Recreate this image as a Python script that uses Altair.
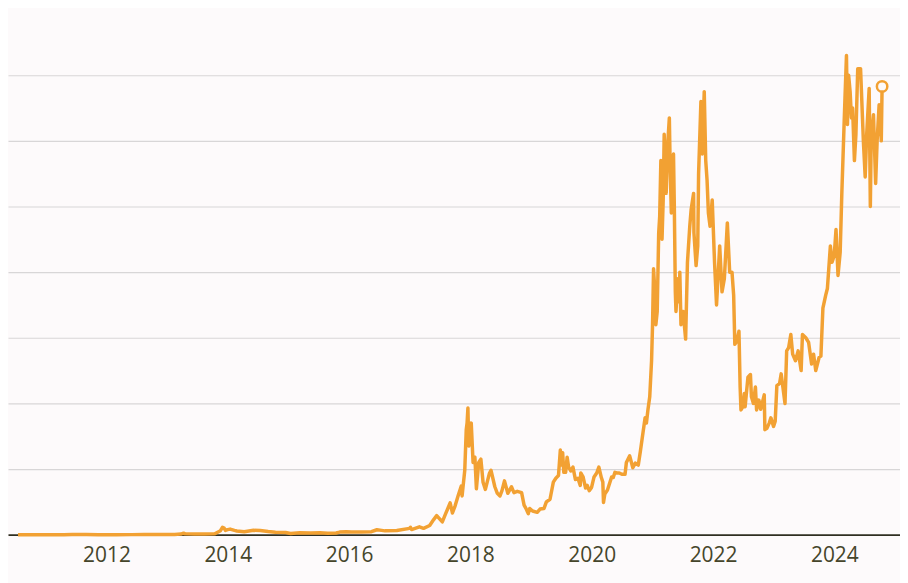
import altair as alt
import pandas as pd

dates = [
    "2010-07-18", "2010-10-01", "2010-12-15", "2011-02-10", "2011-04-20", "2011-06-08", "2011-07-15",
    "2011-09-01", "2011-11-15", "2011-12-31", "2012-03-01", "2012-06-01", "2012-08-15", "2012-11-01",
    "2012-12-31", "2013-02-15", "2013-03-25", "2013-04-10", "2013-04-20", "2013-06-15", "2013-08-15",
    "2013-10-15", "2013-11-18", "2013-11-30", "2013-12-10", "2013-12-18", "2013-12-31", "2014-01-15",
    "2014-02-10", "2014-02-25", "2014-04-10", "2014-06-05", "2014-07-15", "2014-09-01", "2014-10-15",
    "2014-12-15", "2015-01-14", "2015-03-10", "2015-05-15", "2015-07-10", "2015-08-25", "2015-10-15",
    "2015-11-05", "2015-12-15", "2016-01-15", "2016-03-15", "2016-05-15", "2016-06-17", "2016-07-15",
    "2016-08-05", "2016-10-15", "2016-12-31", "2017-01-05", "2017-01-12", "2017-02-28", "2017-03-25",
    "2017-05-01", "2017-05-25", "2017-06-12", "2017-07-16", "2017-08-05", "2017-08-20", "2017-09-01",
    "2017-09-15", "2017-10-01", "2017-10-20", "2017-11-07", "2017-11-12", "2017-11-28", "2017-12-07",
    "2017-12-12", "2017-12-17", "2017-12-22", "2017-12-27", "2018-01-06", "2018-01-17", "2018-01-28",
    "2018-02-06", "2018-02-20", "2018-03-05", "2018-03-18", "2018-04-01", "2018-04-12", "2018-04-25",
    "2018-05-05", "2018-05-28", "2018-06-12", "2018-06-28", "2018-07-10", "2018-07-25", "2018-08-14",
    "2018-08-30", "2018-09-05", "2018-09-20", "2018-10-10", "2018-11-05", "2018-11-20", "2018-12-01",
    "2018-12-15", "2018-12-24", "2019-01-10", "2019-02-07", "2019-02-24", "2019-03-20", "2019-04-03",
    "2019-04-25", "2019-05-15", "2019-05-30", "2019-06-15", "2019-06-26", "2019-07-02", "2019-07-10",
    "2019-07-17", "2019-07-28", "2019-08-06", "2019-08-15", "2019-08-28", "2019-09-10", "2019-09-25",
    "2019-10-10", "2019-10-24", "2019-10-27", "2019-11-10", "2019-11-25", "2019-12-05", "2019-12-17",
    "2019-12-31", "2020-01-15", "2020-01-31", "2020-02-13", "2020-02-28", "2020-03-08", "2020-03-12",
    "2020-03-20", "2020-04-05", "2020-04-30", "2020-05-10", "2020-05-20", "2020-06-01", "2020-06-15",
    "2020-07-01", "2020-07-20", "2020-07-28", "2020-08-17", "2020-09-05", "2020-09-20", "2020-10-08",
    "2020-10-21", "2020-11-05", "2020-11-18", "2020-11-26", "2020-12-05", "2020-12-16", "2020-12-27",
    "2021-01-02", "2021-01-08", "2021-01-14", "2021-01-22", "2021-01-30", "2021-02-08", "2021-02-14",
    "2021-02-21", "2021-02-28", "2021-03-07", "2021-03-13", "2021-03-25", "2021-04-02", "2021-04-13",
    "2021-04-18", "2021-04-25", "2021-05-03", "2021-05-08", "2021-05-13", "2021-05-19", "2021-05-23",
    "2021-06-03", "2021-06-12", "2021-06-15", "2021-06-22", "2021-07-05", "2021-07-20", "2021-07-31",
    "2021-08-14", "2021-08-22", "2021-09-06", "2021-09-08", "2021-09-21", "2021-10-01", "2021-10-06",
    "2021-10-20", "2021-10-28", "2021-11-09", "2021-11-18", "2021-11-26", "2021-12-04", "2021-12-14",
    "2021-12-27", "2022-01-10", "2022-01-22", "2022-02-10", "2022-02-24", "2022-03-10", "2022-03-28",
    "2022-04-11", "2022-04-25", "2022-05-05", "2022-05-12", "2022-05-25", "2022-06-06", "2022-06-13",
    "2022-06-18", "2022-06-30", "2022-07-08", "2022-07-13", "2022-07-30", "2022-08-14", "2022-08-20",
    "2022-09-01", "2022-09-13", "2022-09-20", "2022-10-04", "2022-10-15", "2022-11-05", "2022-11-09",
    "2022-11-21", "2022-12-05", "2022-12-15", "2022-12-31", "2023-01-10", "2023-01-20", "2023-02-05",
    "2023-02-15", "2023-03-10", "2023-03-20", "2023-04-01", "2023-04-14", "2023-04-25", "2023-05-12",
    "2023-05-28", "2023-06-15", "2023-06-23", "2023-07-13", "2023-07-30", "2023-08-17", "2023-08-29",
    "2023-09-11", "2023-10-01", "2023-10-12", "2023-10-24", "2023-11-10", "2023-11-20", "2023-12-08",
    "2023-12-18", "2023-12-31", "2024-01-11", "2024-01-23", "2024-02-05", "2024-02-15", "2024-02-28",
    "2024-03-05", "2024-03-14", "2024-03-20", "2024-03-27", "2024-04-05", "2024-04-13", "2024-04-20",
    "2024-05-01", "2024-05-10", "2024-05-21", "2024-06-07", "2024-06-24", "2024-07-05", "2024-07-14",
    "2024-07-29", "2024-08-05", "2024-08-10", "2024-08-24", "2024-09-06", "2024-09-15", "2024-09-27",
    "2024-10-10", "2024-10-15",
]

prices = [
    0.07, 0.1, 0.25, 1.0, 1.5, 29, 14,
    8, 3, 4.5, 5, 6.5, 11, 11,
    13, 27, 90, 230, 120, 105, 105,
    140, 600, 1120, 1000, 640, 760, 850,
    650, 560, 450, 660, 620, 480, 380,
    330, 180, 280, 240, 285, 230, 260,
    390, 450, 390, 415, 450, 750, 650,
    580, 640, 960, 1130, 780, 1190, 960,
    1400, 2300, 2900, 1950, 3200, 4100, 4850,
    3300, 4400, 6000, 7400, 5900, 9800, 16000,
    17000, 19300, 13500, 16000, 17000, 11000, 11800,
    7000, 11000, 11500, 8000, 6900, 8000, 9300,
    9800, 7300, 6300, 5900, 6700, 8200, 6300,
    7000, 7300, 6400, 6600, 6400, 4500, 4000,
    3200, 4000, 3600, 3400, 3900, 4000, 5000,
    5400, 8000, 8600, 9000, 12900, 10600, 12500,
    9500, 9500, 11800, 10300, 9700, 10300, 8400,
    8600, 7500, 9400, 8800, 7100, 7500, 6700,
    7200, 8800, 9400, 10300, 8700, 8000, 4900,
    6200, 6800, 8800, 8700, 9500, 9400, 9400,
    9200, 9200, 11000, 12000, 10200, 10900, 10600,
    12800, 15500, 17800, 17000, 19000, 21000, 26500,
    32000, 40500, 38000, 32000, 34000, 46000, 48500,
    57000, 45000, 51000, 61000, 52000, 59000, 63500,
    56000, 49000, 57000, 58000, 50000, 37000, 34000,
    39000, 35500, 40000, 32000, 34000, 29800, 41500,
    47000, 49500, 52000, 46000, 41000, 44000, 55000,
    66000, 58000, 67500, 57000, 54000, 49000, 47000,
    51000, 41500, 35000, 44000, 37000, 39000, 47500,
    40000, 40000, 36500, 29000, 29500, 31000, 22500,
    19000, 19500, 21500, 19500, 24000, 24400, 21000,
    20000, 22500, 19000, 20500, 19100, 21300, 16000,
    16200, 17000, 17800, 16500, 17300, 22700, 23000,
    24500, 20000, 28000, 28500, 30500, 27500, 26500,
    28000, 25000, 30500, 30000, 29300, 26000, 27500,
    25000, 27000, 27200, 34500, 36500, 37500, 44000,
    41500, 42500, 46500, 39500, 43000, 52000, 62000,
    66500, 73000, 62500, 70000, 67500, 63500, 65000,
    57000, 61000, 71000, 71000, 60000, 54500, 61000,
    68000, 50000, 60000, 64000, 53500, 60000, 65500,
    60000, 68300,
]

ts = pd.to_datetime(pd.Series(dates))
years = ts.dt.year + (ts.dt.dayofyear - 1) / (365 + ts.dt.is_leap_year.astype(int))
df = pd.DataFrame({"year": years, "price": prices})
last = df.tail(1)

tick_years = [2012, 2014, 2016, 2018, 2020, 2022, 2024]
grid_values = [10000, 20000, 30000, 40000, 50000, 60000, 70000]

ORANGE = "#f2a133"
BG = "#fdfafb"
x_scale = alt.Scale(domain=[2010.377, 2025.082], nice=False, zero=False)
y_scale = alt.Scale(domain=[0, 80000], nice=False)

x_axis = alt.Axis(values=tick_years, format="d", title=None, grid=False, ticks=False,
                  labelFontSize=21, labelColor="#45452a", labelFont="Open Sans",
                  labelFontWeight=500, labelPadding=10, domainColor="#2f2f22", domainWidth=1.6)
y_axis = alt.Axis(values=grid_values, title=None, labels=False, ticks=False, domain=False,
                  grid=True, gridColor="#d8d6d7", gridWidth=1.2)

grid = alt.Chart(df).mark_line(opacity=0).encode(
    x=alt.X("year:Q", scale=x_scale, axis=x_axis),
    y=alt.Y("price:Q", scale=y_scale, axis=y_axis),
)

line = alt.Chart(df).mark_line(color=ORANGE, strokeWidth=3.5, strokeJoin="round").encode(
    x=alt.X("year:Q", scale=x_scale),
    y=alt.Y("price:Q", scale=y_scale),
)

dot = alt.Chart(last).mark_point(shape="circle", size=110, filled=True, fill=BG,
                                 stroke=ORANGE, strokeWidth=2.5, opacity=1).encode(
    x=alt.X("year:Q", scale=x_scale),
    y=alt.Y("price:Q", scale=y_scale),
)

chart = alt.layer(grid, line, dot).properties(
    width=897, height=528,
    background=BG,
    padding={"left": 0, "top": 0, "right": 0, "bottom": 50},
    autosize=alt.AutoSizeParams(type="none"),
).configure_view(stroke=None)

chart.save("out.html", embed_options={"renderer": "svg", "actions": False})
